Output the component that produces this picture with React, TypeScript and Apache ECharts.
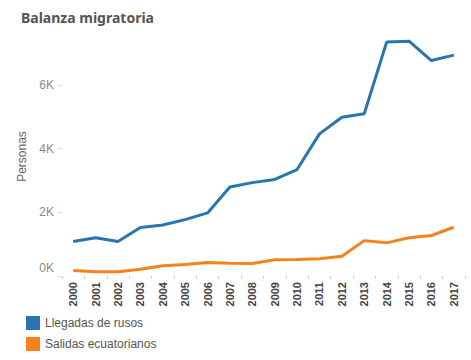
import React, { useEffect, useRef } from "react";
import * as echarts from "echarts";

const years = ["2000","2001","2002","2003","2004","2005","2006","2007","2008","2009","2010","2011","2012","2013","2014","2015","2016","2017"];
const llegadasRusos = [1080, 1200, 1080, 1520, 1600, 1770, 1980, 2790, 2930, 3030, 3340, 4460, 4980, 5090, 7340, 7370, 6760, 6930];
const salidasEcuatorianos = [170, 130, 130, 210, 320, 360, 420, 400, 390, 510, 520, 540, 620, 1110, 1040, 1200, 1270, 1530];
const yTicks = [0, 2000, 4000, 6000];

export default function App() {
  const ref = useRef<HTMLDivElement>(null);
  useEffect(() => {
    if (!ref.current) return;
    const chart = echarts.init(ref.current, null, { renderer: "svg" });
    chart.setOption({
      animation: false,
      title: {
        text: "Balanza migratoria",
        left: 16,
        top: 5,
        textStyle: { fontFamily: "Noto Sans", fontWeight: "bold", fontSize: 14, color: "#555" },
      },
      legend: {
        orient: "vertical",
        left: 26,
        top: 316,
        padding: 0,
        itemWidth: 14,
        itemHeight: 14,
        itemGap: 7,
        icon: "rect",
        textStyle: { fontFamily: "Liberation Sans", fontSize: 12, color: "#555" },
        data: ["Llegadas de rusos", "Salidas ecuatorianos"],
      },
      grid: { left: 62, right: 6, top: 37, bottom: 84 },
      xAxis: {
        type: "category",
        data: years,
        boundaryGap: true,
        axisLine: { show: false },
        axisTick: { show: true, length: 3, lineStyle: { color: "#ccc" } },
        axisLabel: {
          rotate: 90,
          margin: 6,
          fontFamily: "Liberation Sans",
          fontWeight: "bold",
          fontSize: 11,
          color: "#444",
          interval: 0,
        },
      },
      yAxis: {
        type: "value",
        min: 0,
        max: 7500,
        name: "Personas",
        nameLocation: "middle",
        nameGap: 25,
        nameTextStyle: { fontFamily: "Liberation Sans", fontSize: 12, color: "#666" },
        axisLine: { show: false },
        splitLine: { show: false },
        axisTick: { show: true, length: 5, customValues: yTicks, lineStyle: { color: "#ddd" } },
        axisLabel: {
          customValues: yTicks,
          margin: 8,
          fontFamily: "Liberation Sans",
          fontSize: 12,
          color: "#888",
          formatter: (v: number) => (v === 0 ? "{z|0K}" : v / 1000 + "K"),
          rich: { z: { fontFamily: "Liberation Sans", fontSize: 12, color: "#888", padding: [0, 0, 16, 0] } },
        },
      },
      series: [
        {
          name: "Llegadas de rusos",
          type: "line",
          data: llegadasRusos,
          showSymbol: false,
          symbol: "none",
          lineStyle: { width: 3, color: "#2776b0" },
          itemStyle: { color: "#2776b0" },
        },
        {
          name: "Salidas ecuatorianos",
          type: "line",
          data: salidasEcuatorianos,
          showSymbol: false,
          symbol: "none",
          lineStyle: { width: 3, color: "#f7821c" },
          itemStyle: { color: "#f7821c" },
        },
      ],
    });
    return () => chart.dispose();
  }, []);
  return <div ref={ref} style={{ width: 471, height: 360, position: "absolute", left: 0, top: 0 }} />;
}
